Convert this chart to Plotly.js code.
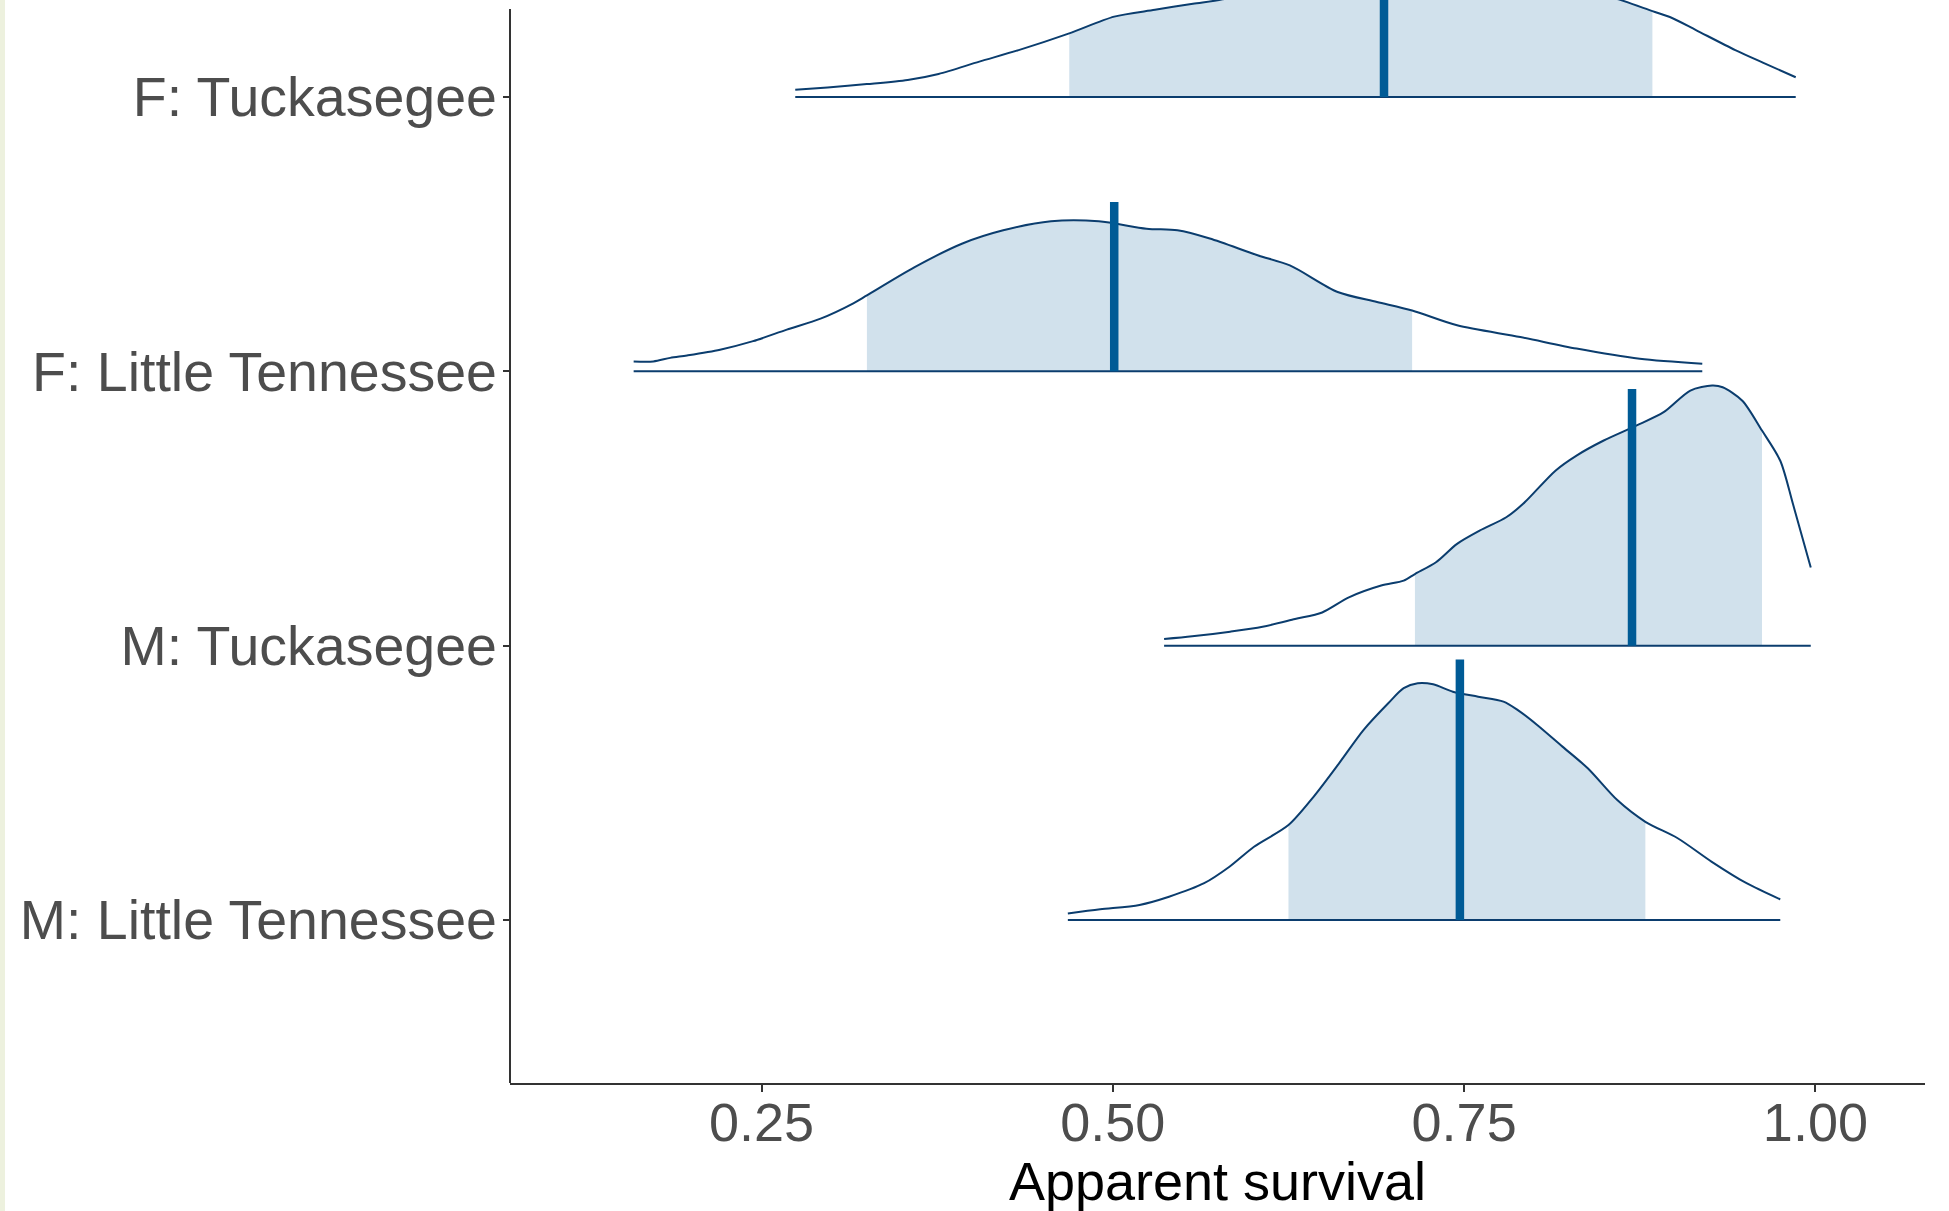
<!DOCTYPE html>
<html>
<head>
<meta charset="utf-8">
<script src="https://cdn.plot.ly/plotly-3.0.1.min.js"></script>
<style>
  html, body { margin: 0; padding: 0; background: #ffffff; }
  #strip { position: absolute; left: 0; top: 0; width: 5px; height: 1211px; background: #edf1de; z-index: 5; }
  #chart { position: absolute; left: 0; top: 0; width: 1949px; height: 1211px; }
</style>
</head>
<body>
<div id="chart"></div>
<div id="strip"></div>
<script>
// ---- data ----
const categories = ["F: Tuckasegee", "F: Little Tennessee", "M: Tuckasegee", "M: Little Tennessee"];
const positions = [4, 3, 2, 1];

// F: Tuckasegee density (scaled height above its baseline)
const ftX = [0.274, 0.297, 0.325, 0.354, 0.376, 0.405, 0.433, 0.469, 0.501, 0.530, 0.557, 0.578, 0.610, 0.650, 0.700, 0.750, 0.800, 0.840, 0.860, 0.884, 0.898, 0.915, 0.943, 0.965, 0.986];
const ftH = [0.026, 0.035, 0.047, 0.062, 0.084, 0.129, 0.171, 0.232, 0.293, 0.318, 0.340, 0.356, 0.405, 0.460, 0.490, 0.480, 0.440, 0.385, 0.356, 0.313, 0.288, 0.244, 0.171, 0.120, 0.072];

// F: Little Tennessee
const fltX = [0.159, 0.173, 0.185, 0.197, 0.2205, 0.244, 0.268, 0.292, 0.315, 0.325, 0.359, 0.393, 0.422, 0.456, 0.490, 0.524, 0.546, 0.569, 0.603, 0.626, 0.660, 0.688, 0.713, 0.745, 0.790, 0.830, 0.875, 0.9195];
const fltH = [0.036, 0.036, 0.049, 0.058, 0.079, 0.110, 0.152, 0.192, 0.247, 0.277, 0.380, 0.466, 0.514, 0.547, 0.547, 0.520, 0.514, 0.484, 0.423, 0.386, 0.289, 0.253, 0.222, 0.168, 0.125, 0.083, 0.046, 0.028];

// M: Tuckasegee
const mtX = [0.5365, 0.5565, 0.5835, 0.6066, 0.6297, 0.649, 0.668, 0.691, 0.707, 0.715, 0.730, 0.745, 0.761, 0.780, 0.792, 0.815, 0.830, 0.849, 0.8725, 0.892, 0.911, 0.9265, 0.934, 0.948, 0.962, 0.975, 0.984, 0.9967];
const mtH = [0.024, 0.034, 0.051, 0.069, 0.097, 0.121, 0.176, 0.219, 0.237, 0.261, 0.304, 0.371, 0.419, 0.468, 0.517, 0.638, 0.693, 0.747, 0.802, 0.851, 0.930, 0.948, 0.942, 0.893, 0.784, 0.674, 0.517, 0.285];

// M: Little Tennessee
const mltX = [0.468, 0.491, 0.519, 0.540, 0.565, 0.583, 0.6005, 0.625, 0.643, 0.661, 0.6785, 0.696, 0.707, 0.717, 0.728, 0.742, 0.760, 0.778, 0.788, 0.802, 0.820, 0.838, 0.859, 0.879, 0.902, 0.926, 0.951, 0.975];
const mltH = [0.024, 0.039, 0.055, 0.085, 0.134, 0.194, 0.267, 0.346, 0.450, 0.571, 0.693, 0.790, 0.845, 0.863, 0.859, 0.832, 0.814, 0.796, 0.766, 0.711, 0.632, 0.553, 0.437, 0.358, 0.298, 0.213, 0.134, 0.075];

// credible interval bounds, medians and median-bar heights (same order as categories)
const intervalLow  = [0.469, 0.325, 0.715, 0.625];
const intervalHigh = [0.884, 0.713, 0.962, 0.879];
const medians      = [0.693, 0.501, 0.8695, 0.747];
const medianTop    = [0.52, 0.617, 0.936, 0.950];

const xTickVals = [0.25, 0.50, 0.75, 1.00];
const xTickText = ["0.25", "0.50", "0.75", "1.00"];
const xTitle = "Apparent survival";

// ---- build traces ----
const densX = [ftX, fltX, mtX, mltX];
const densH = [ftH, fltH, mtH, mltH];

const FILL = "#d1e1ec", OUTLINE = "#0b3d6e", MED = "#005b96";

function interp(xs, hs, x) {
  for (let i = 0; i < xs.length - 1; i++) {
    if (x >= xs[i] && x <= xs[i + 1]) {
      const t = (x - xs[i]) / (xs[i + 1] - xs[i]);
      return hs[i] + t * (hs[i + 1] - hs[i]);
    }
  }
  return 0;
}

const fills = [], outlines = [], baselines = [], medianBars = [];
categories.forEach((name, i) => {
  const xs = densX[i], hs = densH[i], b = positions[i];
  const lo = intervalLow[i], hi = intervalHigh[i];
  // shaded interval
  const px = [lo, lo], py = [b, b + interp(xs, hs, lo)];
  xs.forEach((x, k) => { if (x > lo && x < hi) { px.push(x); py.push(b + hs[k]); } });
  px.push(hi, hi, lo); py.push(b + interp(xs, hs, hi), b, b);
  fills.push({ x: px, y: py, type: "scatter", mode: "lines", fill: "toself",
    fillcolor: FILL, line: { width: 0, color: FILL }, hoverinfo: "skip", showlegend: false });
  // density outline
  outlines.push({ x: xs, y: hs.map(h => b + h), type: "scatter", mode: "lines",
    line: { color: OUTLINE, width: 2, shape: "spline", smoothing: 0.8 }, hoverinfo: "skip", showlegend: false });
  // baseline
  baselines.push({ x: [xs[0], xs[xs.length - 1]], y: [b, b], type: "scatter", mode: "lines",
    line: { color: OUTLINE, width: 2 }, hoverinfo: "skip", showlegend: false });
  // median bar
  medianBars.push({ x: [medians[i], medians[i]], y: [b, b + medianTop[i]], type: "scatter", mode: "lines",
    line: { color: MED, width: 8.5 }, hoverinfo: "skip", showlegend: false });
});

const data = [...fills, ...outlines, ...baselines, ...medianBars];

const FONT = "Liberation Sans, Arial, sans-serif";
const layout = {
  width: 1949, height: 1211,
  margin: { l: 510, r: 24, t: 0, b: 128, pad: 0 },
  paper_bgcolor: "#ffffff", plot_bgcolor: "#ffffff",
  showlegend: false,
  xaxis: {
    range: [0.071, 1.078], showgrid: false, zeroline: false,
    showline: true, linecolor: "#333333", linewidth: 2,
    ticks: "outside", ticklen: 7, tickwidth: 2, tickcolor: "#333333",
    tickvals: xTickVals, ticktext: xTickText,
    tickfont: { family: FONT, size: 54, color: "#4d4d4d" },
    ticklabelstandoff: -16,
    title: { text: xTitle, font: { family: FONT, size: 54, color: "#000000" }, standoff: -6 },
    automargin: false
  },
  yaxis: {
    range: [0.4058, 4.3536], showgrid: false, zeroline: false,
    showline: false,
    ticks: "outside", ticklen: 6, tickwidth: 2, tickcolor: "#333333",
    tickvals: positions, ticktext: categories,
    tickfont: { family: FONT, size: 55.5, color: "#4d4d4d" },
    ticklabelstandoff: -5,
    automargin: false
  },
  shapes: [
    { type: "line", xref: "paper", yref: "paper", x0: 0, x1: 0, y0: 0, y1: 1 - 9 / 1083,
      line: { color: "#333333", width: 2 }, layer: "above" }
  ]
};

Plotly.newPlot("chart", data, layout, { staticPlot: true, displayModeBar: false });
</script>
</body>
</html>
